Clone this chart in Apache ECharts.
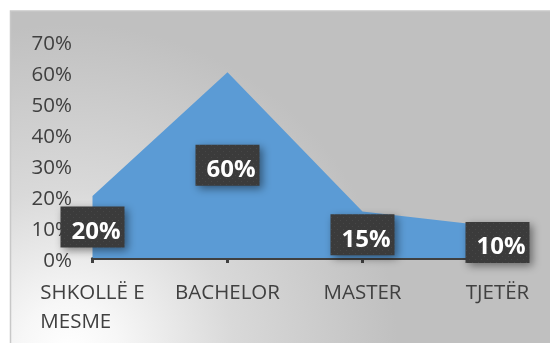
<!DOCTYPE html>
<html>
<head>
<meta charset="utf-8">
<script src="https://cdn.jsdelivr.net/npm/echarts@6/dist/echarts.min.js"></script>
<style>
  html, body { margin: 0; padding: 0; background: #ffffff; }
  #chart { width: 550px; height: 343px; }
</style>
</head>
<body>
<div id="chart"></div>
<script>
// Education level shares
const categories = ['SHKOLLË E\nMESME', 'BACHELOR', 'MASTER', 'TJETËR'];
const shares = [20, 60, 15, 10];
const yTicks = { min: 0, max: 70, interval: 10 };

const FONT = '"Open Sans", "Noto Sans", sans-serif';
const TEXT_DARK = '#404040';

// small dotted texture for the value boxes
function dotPattern() {
  const c = document.createElement('canvas');
  c.width = 6; c.height = 6;
  const g = c.getContext('2d');
  g.fillStyle = '#3b3b3b';
  g.fillRect(0, 0, 6, 6);
  g.fillStyle = '#474747';
  g.fillRect(1, 1, 1, 1);
  g.fillRect(4, 4, 1, 1);
  return c;
}
const boxFill = { image: dotPattern(), repeat: 'repeat' };

const chart = echarts.init(document.getElementById('chart'), null, { renderer: 'canvas' });

chart.setOption({
  animation: false,
  graphic: [{
    type: 'rect',
    z: -10,
    silent: true,
    shape: { x: 10.5, y: 11, width: 545, height: 340 },
    style: {
      fill: new echarts.graphic.RadialGradient(0.11, 1.0, 0.96, [
        { offset: 0, color: '#ffffff' },
        { offset: 0.15, color: '#f7f7f7' },
        { offset: 0.5, color: '#d9d9d9' },
        { offset: 1, color: '#c0c0c0' }
      ]),
      stroke: '#c8c8c8',
      lineWidth: 1.5
    }
  }],
  grid: { left: 92.5, right: 52.5, top: 41.3, bottom: 85 },
  xAxis: {
    type: 'category',
    boundaryGap: false,
    data: categories,
    axisLine: { lineStyle: { color: TEXT_DARK, width: 3 } },
    axisTick: { alignWithLabel: true, length: 5, lineStyle: { color: TEXT_DARK, width: 3 } },
    axisLabel: {
      margin: 21,
      color: TEXT_DARK,
      fontFamily: FONT,
      fontSize: 20.5,
      lineHeight: 29,
      interval: 0,
      formatter: function (v) {
        return v.split('\n').map(l => '{l|' + l + '}').join('\n');
      },
      rich: { l: { align: 'left', color: TEXT_DARK, fontFamily: FONT, fontSize: 20.5, lineHeight: 29 } }
    }
  },
  yAxis: {
    type: 'value',
    min: yTicks.min,
    max: yTicks.max,
    interval: yTicks.interval,
    splitLine: { show: false },
    axisLine: { show: false },
    axisTick: { show: false },
    axisLabel: {
      margin: 20.5,
      color: TEXT_DARK,
      fontFamily: FONT,
      fontSize: 20.5,
      formatter: function (v) { return '{p|' + v + '%}'; },
      rich: { p: { color: TEXT_DARK, fontFamily: FONT, fontSize: 20.5, padding: [6, 0, 0, 0] } }
    }
  },
  series: [
    {
      type: 'line',
      data: shares,
      symbol: 'none',
      lineStyle: { width: 0 },
      areaStyle: { color: '#5b9bd5', opacity: 1 },
      z: 2
    },
    {
      // value boxes, centred halfway between each point and the axis
      type: 'custom',
      coordinateSystem: 'cartesian2d',
      data: shares.map((v, i) => [i, v]),
      encode: { x: 0, y: 1 },
      z: 5,
      renderItem: function (params, api) {
        const idx = api.value(0);
        const v = api.value(1);
        const top = api.coord([idx, v]);
        const base = api.coord([idx, 0]);
        const cx = top[0];
        const cy = (top[1] + base[1]) / 2;
        return {
          type: 'group',
          children: [
            {
              type: 'rect',
              shape: { x: cx - 32, y: cy - 20.5, width: 64, height: 41 },
              style: {
                fill: boxFill,
                shadowBlur: 8,
                shadowOffsetX: 3,
                shadowOffsetY: 3,
                shadowColor: 'rgba(0,0,0,0.45)'
              }
            },
            {
              type: 'text',
              style: {
                text: v + '%',
                x: cx + 3.5,
                y: cy + 5,
                align: 'center',
                verticalAlign: 'middle',
                fill: '#ffffff',
                fontFamily: FONT,
                fontWeight: 'bold',
                fontSize: 24
              }
            }
          ]
        };
      }
    }
  ]
});
</script>
</body>
</html>
